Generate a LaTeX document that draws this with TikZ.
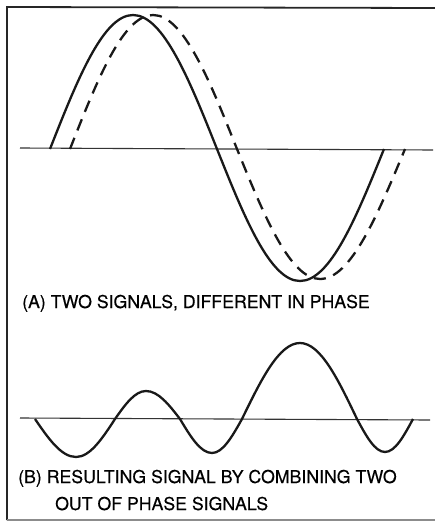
\documentclass[tikz,border=0pt]{standalone}
\usepackage{fontspec}
\setmainfont{TeX Gyre Heros}[FakeBold=0.4]
\begin{document}
\begin{tikzpicture}[x=1pt,y=-1pt,
  frame/.style={line width=1.8pt,black!85},
  axis/.style={line width=1.1pt,black!80},
  wave/.style={line width=2.3pt,black!90},
  dwave/.style={line width=2.3pt,black!90,dash pattern=on 12pt off 8pt},
  lbl/.style={inner sep=0pt,anchor=base west,font=\fontsize{17.7}{21}\selectfont}]
\useasboundingbox (0,0) rectangle (435,522);
% frame
\draw[frame] (435,8) -- (7,7) -- (7,520);
\draw[line width=1.2pt,black!45] (7,520) -- (435,520);
% (A)
\draw[axis] (20,148) -- (433,150);
\draw[wave] (50,149) sin (133,15) cos (217,149) sin (300,281) cos (384,149);
\draw[dwave] (70,149) sin (153,15) cos (237,149) sin (320,279) cos (405,149);
\node[lbl] (la) at (22,308) {(A) TWO SIGNALS, DIFFERENT IN PHASE};
% (B)
\draw[axis] (20,418) -- (430,420);
\draw[wave] (35,419) sin (76,457) cos (115,419) sin (146,391) cos (180,419)
  sin (212,453) cos (242,419) sin (300,343) cos (357,419) sin (385,452) cos (413,419);
\node[lbl] (lb1) at (18,483) {(B) RESULTING SIGNAL BY COMBINING TWO};
\node[lbl] (lb2) at (55,510) {OUT OF PHASE SIGNALS};
\end{tikzpicture}
\end{document}
